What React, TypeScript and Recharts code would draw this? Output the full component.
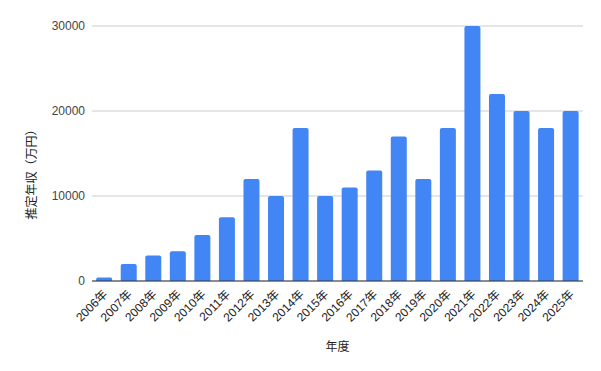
import React from "react";
import {
  BarChart,
  Bar,
  XAxis,
  YAxis,
  CartesianGrid,
} from "recharts";

const years = [
  "2006年", "2007年", "2008年", "2009年", "2010年",
  "2011年", "2012年", "2013年", "2014年", "2015年",
  "2016年", "2017年", "2018年", "2019年", "2020年",
  "2021年", "2022年", "2023年", "2024年", "2025年",
];
const income = [
  400, 2000, 3000, 3500, 5400,
  7500, 12000, 10000, 18000, 10000,
  11000, 13000, 17000, 12000, 18000,
  30000, 22000, 20000, 18000, 20000,
];
const yTicks = [0, 10000, 20000, 30000];

const data = years.map((year, i) => ({ year, income: income[i] }));

const FONT = "'Liberation Sans', Arial, 'Noto Sans CJK JP', sans-serif";

const XTick = (props: any) => {
  const { x, y, payload } = props;
  return (
    <text
      x={x + 4}
      y={y + 6}
      transform={`rotate(-45, ${x + 4}, ${y + 6})`}
      textAnchor="end"
      fontSize={12}
      fill="#222"
      fontFamily={FONT}
    >
      {payload.value}
    </text>
  );
};

const YTitle = (props: any) => {
  const { viewBox } = props;
  const cx = 33;
  const cy = viewBox.y + viewBox.height / 2 + 18;
  return (
    <text
      x={cx}
      y={cy}
      transform={`rotate(-90, ${cx}, ${cy})`}
      textAnchor="middle"
      dominantBaseline="middle"
      fontSize={12}
      fill="#222"
      fontFamily={FONT}
    >
      推定年収（万円）
    </text>
  );
};

const App = () => {
  return (
    <div style={{ position: "absolute", left: 0, top: 0, background: "#fff" }}>
      <BarChart
        width={601}
        height={371}
        data={data}
        margin={{ top: 26, right: 18, bottom: 0, left: 0 }}
        barCategoryGap="17%"
      >
        <CartesianGrid vertical={false} stroke="#cccccc" />
        <XAxis
          dataKey="year"
          height={90}
          interval={0}
          tick={<XTick />}
          tickLine={false}
          axisLine={{ stroke: "#333333" }}
          label={{
            value: "年度",
            position: "insideBottom",
            offset: 20,
            fontSize: 12,
            fill: "#222",
            fontFamily: FONT,
          }}
        />
        <YAxis
          width={92}
          domain={[0, 30000]}
          ticks={yTicks}
          tickLine={false}
          axisLine={false}
          tickSize={0}
          tickMargin={7}
          tick={{ fontSize: 12, fill: "#444", fontFamily: FONT }}
          label={<YTitle />}
        />
        <Bar
          dataKey="income"
          fill="#4285F4"
          radius={[2, 2, 0, 0]}
          isAnimationActive={false}
        />
      </BarChart>
    </div>
  );
};

export default App;
